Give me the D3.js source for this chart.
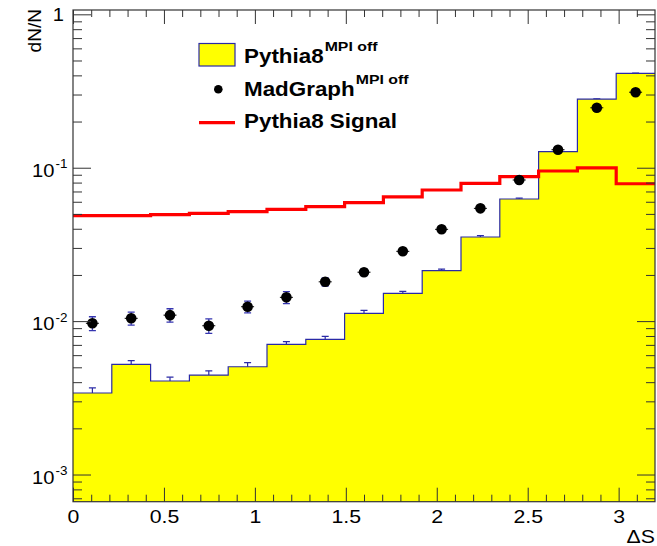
<!DOCTYPE html>
<html>
<head>
<meta charset="utf-8">
<script src="https://cdn.jsdelivr.net/npm/d3@7"></script>
<style>
  body { margin: 0; background: #fff; }
  svg { display: block; }
  text { font-family: "Liberation Sans", Arial, Helvetica, sans-serif; }
</style>
</head>
<body>
<div id="chart"></div>
<script>
// histogram binning: 15 bins between 0 and 3.2
const nBins = 15;
const xLo = 0, xHi = 3.2;

// Pythia8 (MPI off), yellow filled histogram, with its stat errors
const pythiaOff    = [0.00340, 0.00522, 0.00407, 0.00445, 0.00504, 0.00706, 0.00761, 0.01124, 0.01518, 0.02131, 0.03534, 0.06252, 0.1272, 0.2797, 0.4124];
const pythiaOffErr = [0.00027, 0.00031, 0.00024, 0.00029, 0.00033, 0.00028, 0.00034, 0.00051, 0.00046, 0.00053, 0.0007, 0.00075, 0.0010, 0.0017, 0.0020];

// MadGraph (MPI off), black points
const madgraph    = [0.00968, 0.01043, 0.01094, 0.00933, 0.01241, 0.01429, 0.01804, 0.02084, 0.02851, 0.03967, 0.05434, 0.08316, 0.1310, 0.2458, 0.3106];
const madgraphErr = [0.0010, 0.0010, 0.0011, 0.0010, 0.0011, 0.0013, 0.0011, 0.0010, 0.0011, 0.0012, 0.0015, 0.0020, 0.0025, 0.0035, 0.0040];

// Pythia8 signal, red line
const signal = [0.0487, 0.0487, 0.0495, 0.0504, 0.0518, 0.0535, 0.0558, 0.0593, 0.0646, 0.0716, 0.0791, 0.0874, 0.0952, 0.0998, 0.0786];

// axis ticks
const xMajor = [0, 0.5, 1, 1.5, 2, 2.5, 3];
const xMinor = [0.1,0.2,0.3,0.4,0.6,0.7,0.8,0.9,1.1,1.2,1.3,1.4,1.6,1.7,1.8,1.9,2.1,2.2,2.3,2.4,2.6,2.7,2.8,2.9,3.1];
const yDecades = [1e-3, 1e-2, 1e-1, 1];
const yBase = ["10", "10", "10", "1"];
const yExp  = ["-3", "-2", "-1", ""];

const legendLabels = ["Pythia8", "MadGraph", "Pythia8 Signal"];
const legendSup    = ["MPI off", "MPI off", ""];

let w = 657, h = 546;
let mLeft = 73, mRight = 655, mTop = 10, mBottom = 501.7;
let sx = 1.12; // ROOT helvetica comes out wide

let svg = d3.select("#chart").append("svg").attr("width", w).attr("height", h);

let x = d3.scaleLinear().domain([xLo, xHi]).range([mLeft, mRight]);
let y = d3.scaleLog().domain([6.65e-4, 1.067]).range([mBottom, mTop]);

let edges = d3.range(nBins + 1).map(i => xLo + i * (xHi - xLo) / nBins);
let centers = d3.range(nBins).map(i => (edges[i] + edges[i + 1]) / 2);

function stepPts(vals) {
  let pts = vals.map((v, i) => [edges[i], v]);
  pts.push([edges[nBins], vals[nBins - 1]]);
  return pts;
}

function txt(parent, px, py, s, size, opt) {
  opt = opt || {};
  let g = parent.append("g")
    .attr("transform", "translate(" + px + "," + py + ")" + (opt.rot ? " rotate(" + opt.rot + ")" : "") + " scale(" + (opt.sx || sx) + ",1)");
  return g.append("text")
    .attr("font-size", size)
    .attr("text-anchor", opt.anchor || "start")
    .attr("font-weight", opt.bold ? "bold" : null)
    .attr("fill", "#000")
    .text(s);
}

svg.append("clipPath").attr("id", "frame")
  .append("rect").attr("x", mLeft).attr("y", mTop).attr("width", mRight - mLeft).attr("height", mBottom - mTop);

let plot = svg.append("g").attr("clip-path", "url(#frame)");
let blue = "#2a2aa6";

// error bars of the yellow histogram go first, the fill hides the lower half
let he = plot.append("g").attr("stroke", blue).attr("stroke-width", 1.2);
pythiaOff.forEach((v, i) => {
  let cx = x(centers[i]);
  he.append("line").attr("x1", cx).attr("x2", cx).attr("y1", y(v - pythiaOffErr[i])).attr("y2", y(v + pythiaOffErr[i]));
  he.append("line").attr("x1", cx - 3.5).attr("x2", cx + 3.5).attr("y1", y(v + pythiaOffErr[i])).attr("y2", y(v + pythiaOffErr[i]));
});

let area = d3.area().curve(d3.curveStepAfter).x(d => x(d[0])).y0(mBottom).y1(d => y(d[1]));
let line = d3.line().curve(d3.curveStepAfter).x(d => x(d[0])).y(d => y(d[1]));

plot.append("path").datum(stepPts(pythiaOff)).attr("d", area).attr("fill", "#ffff00");
plot.append("path").datum(stepPts(pythiaOff)).attr("d", line).attr("fill", "none").attr("stroke", blue).attr("stroke-width", 1.2);

plot.append("path").datum(stepPts(signal)).attr("d", line).attr("fill", "none").attr("stroke", "#ff0000").attr("stroke-width", 3.2);

// madgraph points
let me = plot.append("g").attr("stroke", "#3535b0").attr("stroke-width", 1.3);
madgraph.forEach((v, i) => {
  let cx = x(centers[i]);
  let y1 = y(v - madgraphErr[i]), y2 = y(v + madgraphErr[i]);
  me.append("line").attr("x1", cx).attr("x2", cx).attr("y1", y1).attr("y2", y2);
  me.append("line").attr("x1", cx - 3.5).attr("x2", cx + 3.5).attr("y1", y1).attr("y2", y1);
  me.append("line").attr("x1", cx - 3.5).attr("x2", cx + 3.5).attr("y1", y2).attr("y2", y2);
});
plot.selectAll(".mg").data(madgraph).enter().append("line")
  .attr("x1", (d, i) => x(centers[i]) - 6.5).attr("x2", (d, i) => x(centers[i]) + 6.5)
  .attr("y1", d => y(d)).attr("y2", d => y(d))
  .attr("stroke", "#000").attr("stroke-width", 1);
plot.selectAll(".dot").data(madgraph).enter().append("circle")
  .attr("class", "dot")
  .attr("cx", (d, i) => x(centers[i]))
  .attr("cy", d => y(d))
  .attr("r", 5.3)
  .attr("fill", "#000");

// axes, ticks inside the frame on all four sides
let axisCol = "#333";
function styleAxis(g) {
  g.select(".domain").remove();
  g.selectAll("line").attr("stroke", axisCol).attr("stroke-width", 1);
}
let yMinor = [-4, -3, -2, -1].flatMap(e => d3.range(2, 10).map(k => k * Math.pow(10, e)))
  .filter(v => v > y.domain()[0] && v < y.domain()[1]);

let xb = svg.append("g").attr("transform", "translate(0," + mBottom + ")")
  .call(d3.axisBottom(x).tickValues(xMajor).tickSizeInner(-14).tickSizeOuter(0).tickPadding(7.5).tickFormat(d3.format("")));
styleAxis(xb);
xb.attr("font-family", null).attr("font-size", 19);
xb.selectAll("text").attr("fill", "#000").attr("transform", "scale(" + sx + ",1)");
svg.append("g").attr("transform", "translate(0," + mBottom + ")")
  .call(d3.axisBottom(x).tickValues(xMinor).tickSizeInner(-7).tickSizeOuter(0).tickFormat("")).call(styleAxis);
svg.append("g").attr("transform", "translate(0," + mTop + ")")
  .call(d3.axisTop(x).tickValues(xMajor).tickSizeInner(-14).tickSizeOuter(0).tickFormat("")).call(styleAxis);
svg.append("g").attr("transform", "translate(0," + mTop + ")")
  .call(d3.axisTop(x).tickValues(xMinor).tickSizeInner(-7).tickSizeOuter(0).tickFormat("")).call(styleAxis);

svg.append("g").attr("transform", "translate(" + mLeft + ",0)")
  .call(d3.axisLeft(y).tickValues(yDecades).tickSizeInner(-18).tickSizeOuter(0).tickFormat("")).call(styleAxis);
svg.append("g").attr("transform", "translate(" + mLeft + ",0)")
  .call(d3.axisLeft(y).tickValues(yMinor).tickSizeInner(-9).tickSizeOuter(0).tickFormat("")).call(styleAxis);
svg.append("g").attr("transform", "translate(" + mRight + ",0)")
  .call(d3.axisRight(y).tickValues(yDecades).tickSizeInner(-18).tickSizeOuter(0).tickFormat("")).call(styleAxis);
svg.append("g").attr("transform", "translate(" + mRight + ",0)")
  .call(d3.axisRight(y).tickValues(yMinor).tickSizeInner(-9).tickSizeOuter(0).tickFormat("")).call(styleAxis);

svg.append("rect").attr("x", mLeft).attr("y", mTop).attr("width", mRight - mLeft).attr("height", mBottom - mTop)
  .attr("fill", "none").attr("stroke", axisCol).attr("stroke-width", 1.2);

// y labels with exponents
yDecades.forEach((d, i) => {
  let ty = y(d);
  if (yExp[i] === "") {
    txt(svg, 64, ty + 6.5, yBase[i], 18, { anchor: "end" });
  } else {
    txt(svg, 54.5, ty + 9, yBase[i], 18, { anchor: "end" });
    txt(svg, 55.5, ty + 0.5, yExp[i], 12);
  }
});

// axis titles
txt(svg, 655, 543, "\u0394S", 19, { anchor: "end" });
txt(svg, 40.5, 9, "dN/N", 18, { anchor: "end", rot: -90, sx: 1.06 });

// legend
let lg = svg.append("g");
let rowY = [63.3, 95.7, 127.7];
lg.append("rect").attr("x", 199).attr("y", 43.5).attr("width", 36).attr("height", 22.5)
  .attr("fill", "#ffff00").attr("stroke", blue).attr("stroke-width", 1.2);
lg.append("circle").attr("cx", 218.3).attr("cy", 89.3).attr("r", 4.3).attr("fill", "#000");
lg.append("line").attr("x1", 199).attr("x2", 235).attr("y1", 122.7).attr("y2", 122.7)
  .attr("stroke", "#ff0000").attr("stroke-width", 3.2);
legendLabels.forEach((s, i) => {
  let t = txt(lg, 244, rowY[i], s, 20, { bold: true });
  if (legendSup[i]) {
    let tw = t.node().getComputedTextLength() * sx;
    txt(lg, 244 + tw + 1, rowY[i] - 12, legendSup[i], 13, { bold: true, sx: 1.22 });
  }
});
</script>
</body>
</html>
